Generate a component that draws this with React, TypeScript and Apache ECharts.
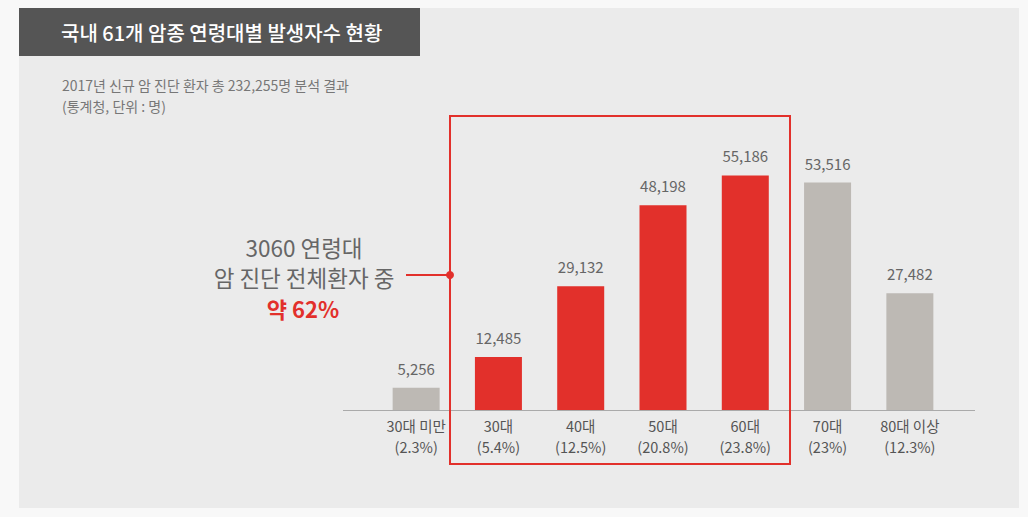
import React, { useEffect, useRef } from "react";
import * as echarts from "echarts";

const categories = ["30대 미만", "30대", "40대", "50대", "60대", "70대", "80대 이상"];
const shares = ["(2.3%)", "(5.4%)", "(12.5%)", "(20.8%)", "(23.8%)", "(23%)", "(12.3%)"];
const patients = [5256, 12485, 29132, 48198, 55186, 53516, 27482];
const highlighted = [false, true, true, true, true, false, false];

const titleText = "국내 61개 암종 연령대별 발생자수 현황";
const subtitleLines = ["2017년 신규 암 진단 환자 총 232,255명 분석 결과", "(통계청, 단위 : 명)"];
const noteLines = ["3060 연령대", "암 진단 전체환자 중"];
const noteHighlight = "약 62%";

const FONT = "'Noto Sans CJK KR', 'Noto Sans', sans-serif";
const RED = "#e2302b";
const GRAY = "#bdb9b4";

export default function App() {
  const ref = useRef<HTMLDivElement>(null);
  useEffect(() => {
    if (!ref.current) return;
    const chart = echarts.init(ref.current, undefined, { renderer: "svg" });
    chart.setOption({
      animation: false,
      backgroundColor: "#f8f8f8",
      textStyle: { fontFamily: FONT },
      grid: { left: 375, right: 77, top: 155, bottom: 107 },
      xAxis: {
        type: "category",
        data: categories.map((c, i) => c + "\n" + shares[i]),
        axisLine: { show: false },
        axisTick: { show: false },
        axisLabel: {
          color: "#555",
          fontSize: 14.5,
          lineHeight: 21,
          margin: 5,
          fontFamily: FONT,
        },
      },
      yAxis: { type: "value", min: 0, max: 60000, show: false, splitLine: { show: false } },
      graphic: [
        { type: "rect", z: -10, shape: { x: 19, y: 8, width: 1000, height: 500 }, style: { fill: "#ebebeb" } },
        { type: "rect", z: -9, shape: { x: 19, y: 8, width: 401, height: 48 }, style: { fill: "#555555" } },
        {
          type: "text", x: 61, y: 32,
          style: { text: titleText, fill: "#fff", font: `500 20px ${FONT}`, textVerticalAlign: "middle" },
        },
        {
          type: "text", x: 62, y: 95,
          style: {
            text: subtitleLines.join("\n"), fill: "#777", font: `14px ${FONT}`,
            lineHeight: 21, textVerticalAlign: "middle",
          },
        },
        {
          type: "line", z: 5,
          shape: { x1: 343, y1: 410.5, x2: 975, y2: 410.5 },
          style: { stroke: "#aaa", lineWidth: 1 },
        },
        {
          type: "rect", z: 10,
          shape: { x: 450, y: 116, width: 340, height: 348 },
          style: { fill: "none", stroke: RED, lineWidth: 2 },
        },
        {
          type: "line", z: 10,
          shape: { x1: 406, y1: 275, x2: 450, y2: 275 },
          style: { stroke: RED, lineWidth: 2 },
        },
        { type: "circle", z: 11, shape: { cx: 450, cy: 275, r: 4 }, style: { fill: RED } },
        {
          type: "text", x: 304, y: 262,
          style: {
            text: noteLines.join("\n"), fill: "#666", font: `22.5px ${FONT}`,
            lineHeight: 30, textAlign: "center", textVerticalAlign: "middle",
          },
        },
        {
          type: "text", x: 303, y: 308,
          style: {
            text: noteHighlight, fill: RED, font: `bold 22px ${FONT}`,
            textAlign: "center", textVerticalAlign: "middle",
          },
        },
      ],
      series: [
        {
          type: "bar",
          barWidth: 47,
          data: patients.map((v, i) => ({
            value: v,
            itemStyle: { color: highlighted[i] ? RED : GRAY },
          })),
          label: {
            show: true,
            position: "top",
            distance: 12,
            color: "#666",
            fontSize: 15,
            fontFamily: FONT,
            formatter: (p: any) => p.value.toLocaleString("en-US"),
          },
        },
      ],
    });
    return () => chart.dispose();
  }, []);
  return (
    <div
      ref={ref}
      style={{ position: "absolute", left: 0, top: 0, width: 1028, height: 517 }}
    />
  );
}
